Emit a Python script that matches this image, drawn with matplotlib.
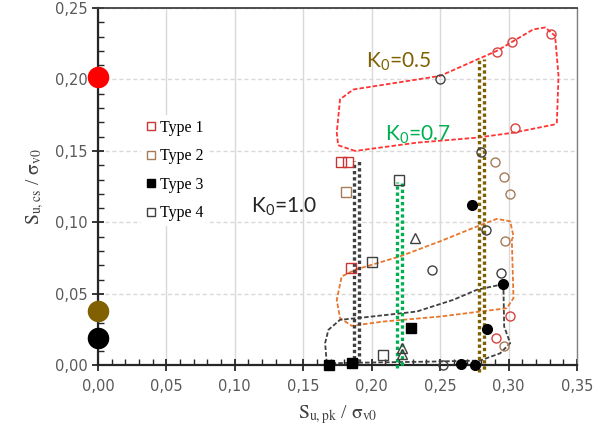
import matplotlib
matplotlib.use("Agg")
import matplotlib.pyplot as plt
from matplotlib.ticker import MultipleLocator, FuncFormatter
from matplotlib.transforms import offset_copy

# reference points on the y axis
ref_x = [0.0, 0.0, 0.0]
ref_y = [0.202, 0.038, 0.019]
ref_c = ["#ff0000", "#806000", "#000000"]

# legend types (squares)
t1_x = [0.1774, 0.1828, 0.1847]
t1_y = [0.142, 0.142, 0.068]
t2_x = [0.181]
t2_y = [0.121]
t3_x = [0.169, 0.186, 0.229]
t3_y = [0.0, 0.002, 0.0265]
t4_x = [0.220, 0.200, 0.2086]
t4_y = [0.1295, 0.072, 0.0072]

# other symbols
tri_x = [0.2317, 0.2225, 0.2225]
tri_y = [0.089, 0.012, 0.008]
gcirc_x = [0.250, 0.280, 0.2836, 0.244, 0.2946, 0.2524]
gcirc_y = [0.200, 0.149, 0.0945, 0.0665, 0.0646, 0.0]
rcirc_x = [0.2914, 0.3024, 0.331, 0.3048, 0.3012, 0.2907]
rcirc_y = [0.2193, 0.2259, 0.2317, 0.1663, 0.0347, 0.0195]
bcirc_x = [0.2902, 0.297, 0.3012, 0.2975, 0.2968]
bcirc_y = [0.1424, 0.132, 0.120, 0.0868, 0.0137]
kcirc_x = [0.273, 0.2958, 0.2841, 0.2653, 0.2756]
kcirc_y = [0.1125, 0.0569, 0.0256, 0.0008, 0.0]

# K0 lines: x, bottom, top
k0_labels = ["K$_0$=1.0", "K$_0$=0.7", "K$_0$=0.5"]
k0_x = [0.189, 0.2204, 0.280]
k0_bot = [0.0, -0.0018, -0.0046]
k0_top = [0.143, 0.128, 0.214]
k0_col = ["#404040", "#00b050", "#7f6000"]
k0_txt_x = [0.1118, 0.2098, 0.196]
k0_txt_y = [0.111, 0.1615, 0.212]
k0_txt_col = ["#262626", "#00b050", "#7f6000"]

# hand drawn envelopes
red_env_x = [0.1879, 0.1755, 0.1745, 0.1769, 0.1866, 0.250, 0.2914, 0.318, 0.3268, 0.334,
             0.3365, 0.3353, 0.334, 0.3036, 0.2768, 0.233, 0.1879]
red_env_y = [0.150, 0.154, 0.1628, 0.1861, 0.193, 0.2025, 0.220, 0.235, 0.2364, 0.2305,
             0.2025, 0.170, 0.1686, 0.1628, 0.1593, 0.1558, 0.150]
org_env_x = [0.1879, 0.2208, 0.250, 0.2743, 0.2914, 0.3012, 0.3036, 0.3024, 0.3036,
             0.2987, 0.250, 0.2086, 0.1855, 0.1769, 0.1745, 0.1781, 0.1879]
org_env_y = [0.0669, 0.0763, 0.0868, 0.0962, 0.1025, 0.1008, 0.0903, 0.088, 0.0471,
             0.040, 0.0342, 0.0307, 0.0277, 0.0331, 0.0459, 0.0622, 0.0669]
blk_env_x = [0.1672, 0.166, 0.1684, 0.1769, 0.1964, 0.233, 0.2597, 0.2768, 0.2939,
             0.2963, 0.2968, 0.3012, 0.2939, 0.2792, 0.245, 0.1964, 0.1672]
blk_env_y = [0.0015, 0.0156, 0.0249, 0.0319, 0.0338, 0.0377, 0.0459, 0.0529, 0.0564,
             0.0529, 0.0272, 0.0156, 0.0085, 0.0034, 0.0027, 0.002, 0.0015]

plt.rcParams["mathtext.fontset"] = "custom"
plt.rcParams["mathtext.rm"] = "Lato"
plt.rcParams["mathtext.it"] = "Lato:italic"

fig = plt.figure(figsize=(6.08, 4.34), dpi=100)
ax = fig.add_axes([0.161, 0.158, 0.788, 0.8236])

ax.set_xlim(0, 0.35)
ax.set_ylim(0, 0.25)
ax.xaxis.set_major_locator(MultipleLocator(0.05))
ax.yaxis.set_major_locator(MultipleLocator(0.05))
ax.xaxis.set_minor_locator(MultipleLocator(0.01))
ax.yaxis.set_minor_locator(MultipleLocator(0.01))
fmt = FuncFormatter(lambda v, p: f"{v:.2f}".replace(".", ","))
ax.xaxis.set_major_formatter(fmt)
ax.yaxis.set_major_formatter(fmt)
ax.tick_params(which="major", direction="inout", length=8, width=1.3, colors="#262626",
               labelcolor="#595959", labelsize=10.5)
ax.tick_params(which="minor", direction="in", length=4, width=1.0, colors="#262626")
ax.tick_params(axis="x", pad=6)

ax.xaxis.grid(True, which="major", color="#d9d9d9", lw=1.0, ls="-")
ax.yaxis.grid(True, which="major", color="#d9d9d9", lw=1.0, ls=(0, (3, 2)))
ax.set_axisbelow(True)

for s in ["left", "bottom"]:
    ax.spines[s].set_color("#262626")
    ax.spines[s].set_linewidth(1.6)
ax.spines["top"].set_color("#404040")
ax.spines["top"].set_linewidth(1.3)
ax.spines["right"].set_color("#808080")
ax.spines["right"].set_linewidth(1.0)

# envelopes
ax.plot(red_env_x, red_env_y, color="#ff3333", lw=1.3, ls=(0, (2.5, 1.2)))
ax.plot(org_env_x, org_env_y, color="#e8772e", lw=1.3, ls=(0, (2.5, 1.2)))
ax.plot(blk_env_x, blk_env_y, color="#404040", lw=1.3, ls=(0, (2.5, 1.2)), clip_on=False)

# K0 chequered dotted lines
for x, b, t, c in zip(k0_x, k0_bot, k0_top, k0_col):
    for dx, off in [(-2.6, 0), (2.6, 1)]:
        tr = offset_copy(ax.transData, fig=fig, x=dx, y=0, units="dots")
        ax.plot([x, x], [b, t], color=c, lw=2.4, ls=(off, (1, 0.85)), transform=tr,
                clip_on=False, zorder=3)

for lab, x, y, c in zip(k0_labels, k0_txt_x, k0_txt_y, k0_txt_col):
    ax.text(x, y, lab, color=c, fontsize=15, family="Lato", ha="left", va="center")

ms = 6.5
ax.plot(tri_x, tri_y, "^", mfc="none", mec="#404040", ms=ms, mew=1.0, zorder=4)
ax.plot(gcirc_x, gcirc_y, "o", mfc="none", mec="#404040", ms=ms, mew=1.0, zorder=4, clip_on=False)
ax.plot(rcirc_x, rcirc_y, "o", mfc="none", mec="#d9413f", ms=ms, mew=1.0, zorder=4)
ax.plot(bcirc_x, bcirc_y, "o", mfc="none", mec="#a57c58", ms=ms, mew=1.0, zorder=4)
ax.plot(kcirc_x, kcirc_y, "o", color="#000000", ms=ms + 0.5, zorder=4, clip_on=False)

h1, = ax.plot(t1_x, t1_y, "s", mfc="none", mec="#cc3333", ms=ms, mew=1.0, zorder=4, label="Type 1")
h2, = ax.plot(t2_x, t2_y, "s", mfc="none", mec="#a57c58", ms=ms, mew=1.0, zorder=4, label="Type 2")
h3, = ax.plot(t3_x, t3_y, "s", color="#000000", ms=ms, zorder=4, clip_on=False, label="Type 3")
h4, = ax.plot(t4_x, t4_y, "s", mfc="none", mec="#404040", ms=ms, mew=1.0, zorder=4, label="Type 4")

for x, y, c in zip(ref_x, ref_y, ref_c):
    ax.plot(x, y, "o", color=c, ms=14.5, clip_on=False, zorder=5)

leg = ax.legend(handles=[h1, h2, h3, h4], loc="upper left", bbox_to_anchor=(0.09, 0.70),
                frameon=True, fancybox=False, framealpha=1, edgecolor="none",
                facecolor="white", markerscale=0.8, handlelength=0.6, handletextpad=0.3,
                labelspacing=0.78, borderpad=0.3, borderaxespad=0,
                prop={"family": "Liberation Serif", "size": 11.5})

ax.set_xlabel(r"$\mathrm{S_{u,pk}}$ / $\mathrm{\sigma_{v0}}$", fontsize=14,
              family="Liberation Serif", math_fontfamily="stix", color="#404040", labelpad=6)
ax.set_ylabel(r"$\mathrm{S_{u,cs}}$ / $\mathrm{\sigma_{v0}}$", fontsize=14,
              family="Liberation Serif", math_fontfamily="stix", color="#404040", labelpad=6)

fig.savefig("out.png", dpi=100)
